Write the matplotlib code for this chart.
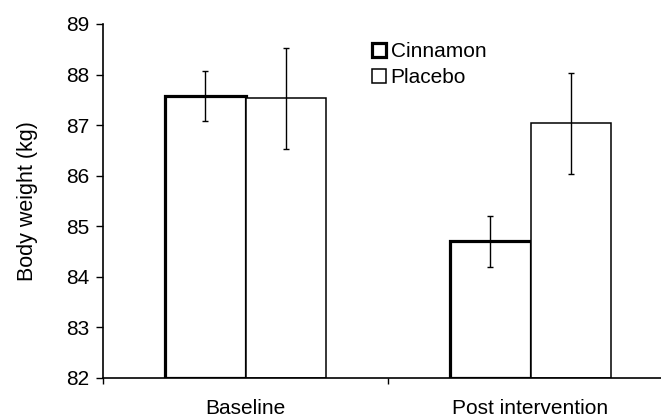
import numpy as np
import matplotlib.pyplot as plt

plt.rcParams['font.family'] = ['Liberation Sans', 'DejaVu Sans']

groups = ['Baseline', 'Post intervention']
cinnamon = [87.58, 84.7]
cinnamon_err = [0.5, 0.5]
placebo = [87.53, 87.04]
placebo_err = [1.0, 1.0]

fig = plt.figure(figsize=(6.61, 4.17), dpi=100)
ax = fig.add_axes([103 / 661, 1 - 378 / 417, 558 / 661, 354 / 417])

x = np.arange(len(groups))
w = 0.284
ax.bar(x - w / 2, np.array(cinnamon) - 82, w, bottom=82, color='white',
       edgecolor='black', linewidth=2.3, label='Cinnamon', zorder=2)
ax.bar(x + w / 2, np.array(placebo) - 82, w, bottom=82, color='white',
       edgecolor='black', linewidth=1.1, label='Placebo', zorder=2)
ax.errorbar(x - w / 2, cinnamon, yerr=cinnamon_err, fmt='none', ecolor='black',
            elinewidth=1.0, capsize=2.5, capthick=1.0, zorder=3)
ax.errorbar(x + w / 2, placebo, yerr=placebo_err, fmt='none', ecolor='black',
            elinewidth=1.0, capsize=2.5, capthick=1.0, zorder=3)

ax.set_ylim(82, 89)
ax.set_xlim(-0.5, -0.5 + 558 / 285)
ax.set_yticks(range(82, 90))
ax.set_xticks(x)
ax.set_xticklabels(groups)
ax.set_xticks([-0.5, 0.5], minor=True)
ax.tick_params(axis='x', which='major', length=0, pad=15, labelsize=15)
ax.tick_params(axis='x', which='minor', length=4, width=1, direction='out')
ax.tick_params(axis='y', length=5, width=1, labelsize=15, pad=5)
ax.set_ylabel('Body weight (kg)', fontsize=15.5, labelpad=20)

for s in ['top', 'right']:
    ax.spines[s].set_visible(False)
ax.spines['left'].set_linewidth(1.2)
ax.spines['bottom'].set_linewidth(1.2)

leg = ax.legend(loc='upper left', bbox_to_anchor=((372 - 103) / 558, (378 - 42) / 354),
                frameon=False, fontsize=15, handlelength=0.65, handleheight=0.65,
                handletextpad=0.25, labelspacing=0.35, borderpad=0, borderaxespad=0)

fig.savefig('out.png', dpi=100)
